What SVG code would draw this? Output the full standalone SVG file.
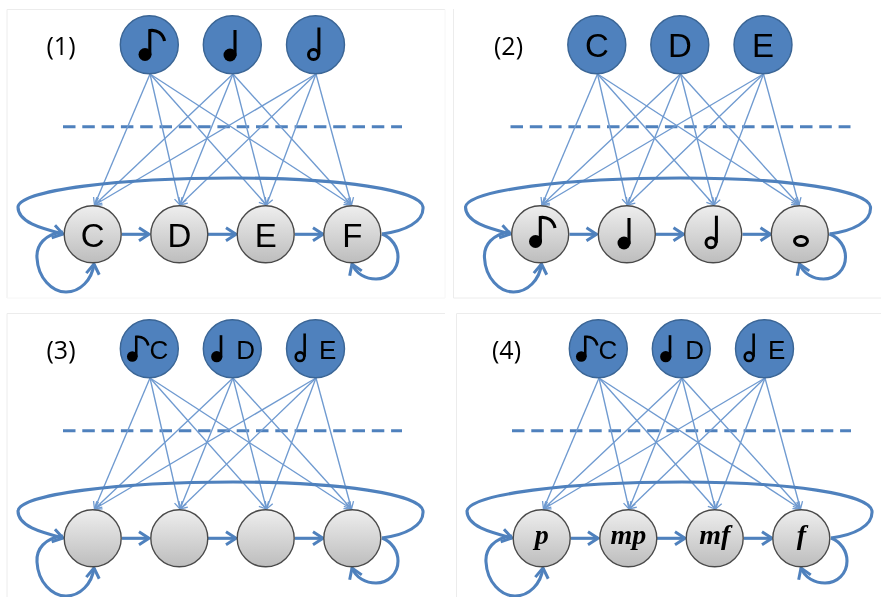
<svg xmlns="http://www.w3.org/2000/svg" width="881" height="597" viewBox="0 0 881 597">
<style>
.frame{fill:none;stroke:#ececec;stroke-width:1}
.faint{fill:none;stroke:#f6f6f6;stroke-width:1}
.fan{fill:none;stroke:#6f9ad0;stroke-width:1.35;marker-end:url(#thin)}
.flow{fill:none;stroke:#4f81bd;stroke-width:3.1;marker-end:url(#thick)}
.dash{fill:none;stroke:#4f81bd;stroke-width:3.1;stroke-dasharray:12.500 6.800}
.top{fill:#4f81bd;stroke:#3a6595;stroke-width:1.4}
.bot{fill:url(#grey);stroke:#4a4a4a;stroke-width:1.4}
.lab{font-family:"Liberation Sans",Arial,sans-serif;fill:#000;text-anchor:middle}
.big{font-size:33px}
.small{font-size:26px}
.dyn{font-family:"Liberation Serif","Times New Roman",serif;font-size:28px;font-weight:bold;font-style:italic;fill:#000;text-anchor:middle}
.num{font-family:"Open Sans",sans-serif;font-size:25px;fill:#000}
</style>
<defs>
<linearGradient id="grey" x1="0" y1="0" x2="0" y2="1"><stop offset="0" stop-color="#eeeeee"/><stop offset="1" stop-color="#bdbdbd"/></linearGradient>
<marker id="thin" markerUnits="userSpaceOnUse" markerWidth="14" markerHeight="14" refX="11" refY="7" orient="auto"><path d="M4,3 L11,7 L4,11" fill="none" stroke="#6f9ad0" stroke-width="1.3"/></marker>
<marker id="thick" markerUnits="userSpaceOnUse" markerWidth="20" markerHeight="20" refX="15" refY="10" orient="auto"><path d="M5,3.500 L15,10 L5,16.500" fill="none" stroke="#4f81bd" stroke-width="3"/></marker>
<g id="n8"><circle r="6.500" fill="#000"/><path d="M4.800,1 V-24 C12,-25 18,-21 19.500,-13.500" fill="none" stroke="#000" stroke-width="3.100"/></g>
<g id="n4"><circle r="6.500" fill="#000"/><path d="M5,1 V-25" fill="none" stroke="#000" stroke-width="3.100"/></g>
<g id="n2"><circle r="5" fill="none" stroke="#000" stroke-width="3"/><path d="M5.400,0 V-27" fill="none" stroke="#000" stroke-width="3"/></g>
<filter id="soft" x="0" y="0" width="881" height="597" filterUnits="userSpaceOnUse"><feGaussianBlur stdDeviation="0.4"/></filter>
</defs>
<rect width="881" height="597" fill="#fff"/>
<g filter="url(#soft)">
<g id="frames">
<path class="frame" d="M7,298 V9.500 H445"/>
<path class="faint" d="M445,9.500 V298 H7"/>
<path class="frame" d="M453.500,9 V298 H881"/>
<path class="frame" d="M7,597 V313.500 H445"/>
<path class="frame" d="M456.500,597 V313.500 H881"/>
</g>

<g id="panel1">
<text class="num" x="46.500" y="55">(1)</text>
<g id="connectors1">
<path class="dash" d="M63,126.700 H402"/>
<path class="fan" d="M150,74 L94.500,205"/><path class="fan" d="M150,74 L180,205"/><path class="fan" d="M150,74 L266.500,205"/><path class="fan" d="M150,74 L351.500,205"/>
<path class="fan" d="M233,74 L94.500,205"/><path class="fan" d="M233,74 L180,205"/><path class="fan" d="M233,74 L266.500,205"/><path class="fan" d="M233,74 L351.500,205"/>
<path class="fan" d="M316,74 L94.500,205"/><path class="fan" d="M316,74 L180,205"/><path class="fan" d="M316,74 L266.500,205"/><path class="fan" d="M316,74 L351.500,205"/>
<path class="flow" d="M122,234.300 H149"/><path class="flow" d="M208,234.300 H236"/><path class="flow" d="M295,234.300 H323"/>
<path class="flow" d="M382,234 C405,231 424,222 423,207 C421,190 340,178 233,178 C120,178 20,190 18,207 C18,222 40,228 63,234"/>
<path class="flow" d="M63,232 C45,234 36,245 37,258 C38,278 52,292 66,292 C80,292 92,280 94,264"/>
<path class="flow" d="M382,234 C392,238 398,247 398,257 C398,270 388,279 376,279 C366,279 356,274 352,264"/>
</g>
<g id="p1-top-1"><circle class="top" cx="149.300" cy="44.700" r="29"/><use href="#n8" x="145" y="54.500"/></g>
<g id="p1-top-2"><circle class="top" cx="232.300" cy="44.700" r="29"/><use href="#n4" x="230" y="55"/></g>
<g id="p1-top-3"><circle class="top" cx="315.500" cy="44.700" r="29"/><use href="#n2" x="313.500" y="54.500"/></g>
<g id="p1-bot-1"><circle class="bot" cx="92.700" cy="234.300" r="28.500"/><text class="lab big" x="92.700" y="246.500">C</text></g>
<g id="p1-bot-2"><circle class="bot" cx="179.300" cy="234.300" r="28.500"/><text class="lab big" x="179.300" y="246.500">D</text></g>
<g id="p1-bot-3"><circle class="bot" cx="265.700" cy="234.300" r="28.500"/><text class="lab big" x="265.700" y="246.500">E</text></g>
<g id="p1-bot-4"><circle class="bot" cx="352.300" cy="234.300" r="28.500"/><text class="lab big" x="352.300" y="246.500">F</text></g>
</g>

<g id="panel2" transform="translate(447.500,0)">
<text class="num" x="46.500" y="55">(2)</text>
<g id="connectors2">
<path class="dash" d="M63,126.700 H403"/>
<path class="fan" d="M150,74 L94.500,205"/><path class="fan" d="M150,74 L180,205"/><path class="fan" d="M150,74 L266.500,205"/><path class="fan" d="M150,74 L351.500,205"/>
<path class="fan" d="M233,74 L94.500,205"/><path class="fan" d="M233,74 L180,205"/><path class="fan" d="M233,74 L266.500,205"/><path class="fan" d="M233,74 L351.500,205"/>
<path class="fan" d="M316,74 L94.500,205"/><path class="fan" d="M316,74 L180,205"/><path class="fan" d="M316,74 L266.500,205"/><path class="fan" d="M316,74 L351.500,205"/>
<path class="flow" d="M122,234.300 H149"/><path class="flow" d="M208,234.300 H236"/><path class="flow" d="M295,234.300 H323"/>
<path class="flow" d="M382,234 C405,231 424,222 423,207 C421,190 340,178 233,178 C120,178 20,190 18,207 C18,222 40,228 63,234"/>
<path class="flow" d="M63,232 C45,234 36,245 37,258 C38,278 52,292 66,292 C80,292 92,280 94,264"/>
<path class="flow" d="M382,234 C392,238 398,247 398,257 C398,270 388,279 376,279 C366,279 356,274 352,264"/>
</g>
<g id="p2-top-1"><circle class="top" cx="149.300" cy="44.700" r="29"/><text class="lab big" x="149.300" y="56.500">C</text></g>
<g id="p2-top-2"><circle class="top" cx="232.300" cy="44.700" r="29"/><text class="lab big" x="232.300" y="56.500">D</text></g>
<g id="p2-top-3"><circle class="top" cx="315.500" cy="44.700" r="29"/><text class="lab big" x="315.500" y="56.500">E</text></g>
<g id="p2-bot-1"><circle class="bot" cx="92.700" cy="234.300" r="28.500"/><use href="#n8" x="88" y="241.500"/></g>
<g id="p2-bot-2"><circle class="bot" cx="179.300" cy="234.300" r="28.500"/><use href="#n4" x="176.500" y="243"/></g>
<g id="p2-bot-3"><circle class="bot" cx="265.700" cy="234.300" r="28.500"/><use href="#n2" x="263.500" y="242.700"/></g>
<g id="p2-bot-4"><circle class="bot" cx="352.300" cy="234.300" r="28.500"/><ellipse cx="353.500" cy="241" rx="6.500" ry="4.500" fill="none" stroke="#000" stroke-width="3"/></g>
</g>

<g id="panel3" transform="translate(0,304)">
<text class="num" x="46.500" y="55">(3)</text>
<g id="connectors3">
<path class="dash" d="M63,126.700 H402"/>
<path class="fan" d="M150,74 L94.500,205"/><path class="fan" d="M150,74 L180,205"/><path class="fan" d="M150,74 L266.500,205"/><path class="fan" d="M150,74 L351.500,205"/>
<path class="fan" d="M233,74 L94.500,205"/><path class="fan" d="M233,74 L180,205"/><path class="fan" d="M233,74 L266.500,205"/><path class="fan" d="M233,74 L351.500,205"/>
<path class="fan" d="M316,74 L94.500,205"/><path class="fan" d="M316,74 L180,205"/><path class="fan" d="M316,74 L266.500,205"/><path class="fan" d="M316,74 L351.500,205"/>
<path class="flow" d="M122,234.300 H149"/><path class="flow" d="M208,234.300 H236"/><path class="flow" d="M295,234.300 H323"/>
<path class="flow" d="M382,234 C405,231 424,222 423,207 C421,190 340,178 233,178 C120,178 20,190 18,207 C18,222 40,228 63,234"/>
<path class="flow" d="M63,232 C45,234 36,245 37,258 C38,278 52,292 66,292 C80,292 92,280 94,264"/>
<path class="flow" d="M382,234 C392,238 398,247 398,257 C398,270 388,279 376,279 C366,279 356,274 352,264"/>
</g>
<g id="p3-top-1"><circle class="top" cx="149.300" cy="44.700" r="29"/><use href="#n8" transform="translate(132.300,52.500) scale(.82)"/><text class="lab small" x="159" y="54.500">C</text></g>
<g id="p3-top-2"><circle class="top" cx="232.300" cy="44.700" r="29"/><use href="#n4" transform="translate(216.700,52.700) scale(.86)"/><text class="lab small" x="245.700" y="54.500">D</text></g>
<g id="p3-top-3"><circle class="top" cx="315.500" cy="44.700" r="29"/><use href="#n2" transform="translate(300,52.700) scale(.86)"/><text class="lab small" x="327.700" y="54.500">E</text></g>
<g id="p3-bot-1"><circle class="bot" cx="92.700" cy="234.300" r="28.500"/></g>
<g id="p3-bot-2"><circle class="bot" cx="179.300" cy="234.300" r="28.500"/></g>
<g id="p3-bot-3"><circle class="bot" cx="265.700" cy="234.300" r="28.500"/></g>
<g id="p3-bot-4"><circle class="bot" cx="352.300" cy="234.300" r="28.500"/></g>
</g>

<g id="panel4" transform="translate(449,304)">
<text class="num" x="43" y="55">(4)</text>
<g id="connectors4">
<path class="dash" d="M63,126.700 H402"/>
<path class="fan" d="M150,74 L94.500,205"/><path class="fan" d="M150,74 L180,205"/><path class="fan" d="M150,74 L266.500,205"/><path class="fan" d="M150,74 L351.500,205"/>
<path class="fan" d="M233,74 L94.500,205"/><path class="fan" d="M233,74 L180,205"/><path class="fan" d="M233,74 L266.500,205"/><path class="fan" d="M233,74 L351.500,205"/>
<path class="fan" d="M316,74 L94.500,205"/><path class="fan" d="M316,74 L180,205"/><path class="fan" d="M316,74 L266.500,205"/><path class="fan" d="M316,74 L351.500,205"/>
<path class="flow" d="M122,234.300 H149"/><path class="flow" d="M208,234.300 H236"/><path class="flow" d="M295,234.300 H323"/>
<path class="flow" d="M382,234 C405,231 424,222 423,207 C421,190 340,178 233,178 C120,178 20,190 18,207 C18,222 40,228 63,234"/>
<path class="flow" d="M63,232 C45,234 36,245 37,258 C38,278 52,292 66,292 C80,292 92,280 94,264"/>
<path class="flow" d="M382,234 C392,238 398,247 398,257 C398,270 388,279 376,279 C366,279 356,274 352,264"/>
</g>
<g id="p4-top-1"><circle class="top" cx="149.300" cy="44.700" r="29"/><use href="#n8" transform="translate(132.300,52.500) scale(.82)"/><text class="lab small" x="159" y="54.500">C</text></g>
<g id="p4-top-2"><circle class="top" cx="232.300" cy="44.700" r="29"/><use href="#n4" transform="translate(216.700,52.700) scale(.86)"/><text class="lab small" x="245.700" y="54.500">D</text></g>
<g id="p4-top-3"><circle class="top" cx="315.500" cy="44.700" r="29"/><use href="#n2" transform="translate(300,52.700) scale(.86)"/><text class="lab small" x="327.700" y="54.500">E</text></g>
<g id="p4-bot-1"><circle class="bot" cx="92.700" cy="234.300" r="28.500"/><text class="dyn" x="92.700" y="239.500">p</text></g>
<g id="p4-bot-2"><circle class="bot" cx="179.300" cy="234.300" r="28.500"/><text class="dyn" x="179.300" y="239.500">mp</text></g>
<g id="p4-bot-3"><circle class="bot" cx="265.700" cy="234.300" r="28.500"/><text class="dyn" x="265.700" y="239.500">mf</text></g>
<g id="p4-bot-4"><circle class="bot" cx="352.300" cy="234.300" r="28.500"/><text class="dyn" x="352.300" y="239.500">f</text></g>
</g>
</g>
</svg>
